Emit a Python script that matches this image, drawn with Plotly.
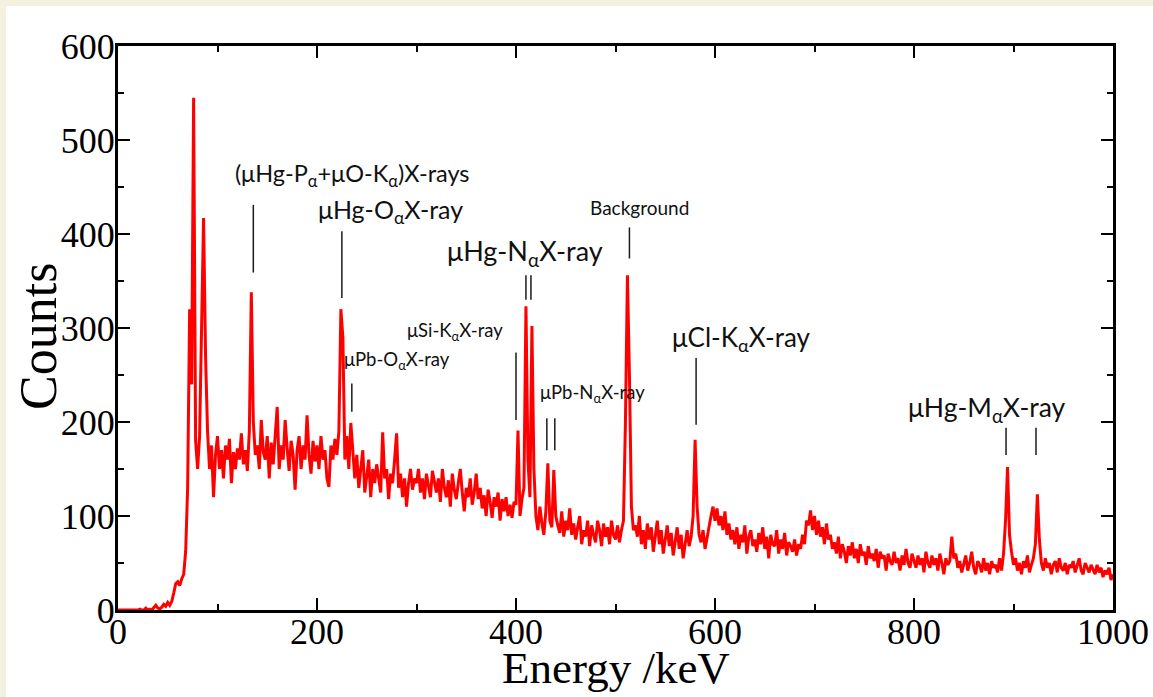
import plotly.graph_objects as go

# ---------------- data ----------------
energy_keV = list(range(0, 1001, 2))  # channel grid, 2 keV steps

counts = [
    0, 0, 0, 0, 0, 0, 0, 0, 0, 0,            # 0-18
    0, 1, 0, 0, 2, 0, 1, 0, 2, 5,            # 20-38
    2, 1, 3, 6, 4, 8, 5, 9, 18, 28,          # 40-58
    30, 26, 33, 38, 62, 130, 320, 240, 545, 180,   # 60-78
    150, 185, 300, 417, 270, 190, 150, 175, 120, 165,  # 80-98
    185, 150, 170, 140, 175, 160, 182, 135, 168, 150,  # 100-118
    172, 160, 188, 155, 170, 148, 190, 338, 200, 165,  # 120-138
    175, 150, 202, 168, 160, 185, 140, 178, 155, 190,  # 140-158
    216, 150, 175, 160, 202, 172, 148, 180, 165, 128,  # 160-178
    170, 185, 150, 175, 160, 207, 165, 145, 180, 158,  # 180-198
    175, 150, 185, 160, 170, 140, 131, 175, 160, 182,  # 200-218
    165, 190, 320, 290, 160, 185, 150, 199, 170, 140,  # 220-238
    165, 130, 150, 170, 125, 145, 160, 120, 150, 135,  # 240-258
    155, 140, 125, 189, 140, 150, 118, 145, 135, 160,  # 260-278
    188, 130, 145, 120, 140, 110, 135, 150, 128, 140,  # 280-298
    135, 150, 125, 140, 118, 145, 130, 120, 148, 135,  # 300-318
    125, 140, 115, 150, 130, 120, 138, 110, 145, 128,  # 320-338
    118, 135, 150, 125, 105, 130, 120, 140, 112, 125,  # 340-358
    145, 118, 130, 108, 122, 100, 128, 115, 98, 120,   # 360-378
    110, 125, 95, 118, 105, 120, 100, 112, 98, 115,    # 380-398
    112, 191, 100, 118, 130, 323, 160, 120, 302, 150,  # 400-418
    100, 85, 110, 92, 80, 105, 156, 95, 88, 149,       # 420-438
    100, 90, 82, 105, 78, 95, 85, 108, 80, 92,         # 440-458
    75, 88, 100, 70, 85, 78, 95, 68, 90, 80,           # 460-478
    72, 95, 85, 68, 92, 78, 88, 70, 95, 80,            # 480-498
    75, 90, 72, 85, 95, 200, 356, 250, 110, 85,        # 500-518
    90, 78, 100, 70, 85, 65, 92, 75, 88, 62,           # 520-538
    80, 95, 70, 85, 60, 78, 90, 68, 82, 58,            # 540-558
    75, 88, 65, 80, 55, 72, 85, 68, 78, 100,           # 560-578
    181, 110, 80, 72, 85, 65, 78, 90, 100, 110,        # 580-598
    95, 108, 90, 100, 85, 105, 80, 92, 75, 85,         # 600-618
    70, 88, 65, 80, 72, 90, 60, 78, 85, 68,            # 620-638
    75, 62, 82, 70, 88, 65, 78, 55, 80, 70,            # 640-658
    68, 85, 60, 75, 65, 82, 58, 72, 68, 62,            # 660-678
    75, 58, 70, 65, 80, 70, 95, 90, 106, 85,           # 680-698
    100, 80, 95, 78, 88, 70, 92, 75, 80, 65,           # 700-718
    72, 60, 78, 55, 70, 62, 50, 68, 58, 72,            # 720-738
    55, 65, 50, 70, 58, 62, 48, 68, 55, 60,            # 740-758
    52, 65, 45, 62, 55, 58, 42, 60, 52, 48,            # 760-778
    62, 50, 55, 42, 58, 48, 65, 50, 45, 60,            # 780-798
    52, 45, 58, 48, 55, 40, 62, 50, 45, 58,            # 800-818
    48, 55, 42, 60, 50, 38, 55, 48, 52, 78,            # 820-838
    55, 60, 45, 52, 40, 48, 58, 42, 50, 62,            # 840-858
    45, 38, 52, 48, 40, 55, 42, 50, 38, 52,            # 860-878
    45, 48, 40, 55, 42, 60, 95, 152, 80, 62,           # 880-898
    48, 55, 42, 50, 38, 52, 45, 58, 40, 48,            # 900-918
    55, 70, 123, 75, 50, 42, 55, 45, 50, 38,           # 920-938
    48, 52, 40, 55, 45, 42, 50, 38, 48, 45,            # 940-958
    52, 40, 48, 55, 42, 38, 50, 45, 40, 48,            # 960-978
    42, 38, 48, 40, 45, 35, 42, 38, 45, 32,            # 980-998
    38,                                                # 1000
]

x_tick_values = [0, 200, 400, 600, 800, 1000]
y_tick_values = [0, 100, 200, 300, 400, 500, 600]

# peak labels: (text, energy centre, counts centre, font size)
peak_labels = [
    ("(μHg-P<sub>α</sub>+μO-K<sub>α</sub>)X-rays", 236, 463, 23.5),
    ("μHg-O<sub>α</sub>X-ray", 274, 424, 25),
    ("μPb-O<sub>α</sub>X-ray", 280, 265, 18.5),
    ("μSi-K<sub>α</sub>X-ray", 339, 296, 18.5),
    ("μHg-N<sub>α</sub>X-ray", 409, 380, 27),
    ("μPb-N<sub>α</sub>X-ray", 477, 230, 18.5),
    ("Background", 524, 428, 19),
    ("μCl-K<sub>α</sub>X-ray", 626, 289, 26),
    ("μHg-M<sub>α</sub>X-ray", 873, 214, 26.5),
]

# marker lines: (energy, lower counts, upper counts)
marker_lines = [
    (136, 359, 431),
    (225, 332, 403),
    (235, 211, 241),
    (400, 202, 274),
    (410, 330, 356),
    (415, 330, 356),
    (431, 170, 204),
    (439, 170, 204),
    (514, 374, 407),
    (581, 197, 268),
    (892.5, 165, 194),
    (922.6, 165, 194),
]

# ---------------- figure ----------------
W, H = 1153, 697
ML, MR, MT, MB = 118, 40, 46, 87
pw, ph = W - ML - MR, H - MT - MB

fig = go.Figure()
fig.add_trace(go.Scatter(
    x=energy_keV, y=counts, mode="lines",
    line=dict(color="#ff0000", width=3),
    showlegend=False, hoverinfo="x+y",
))

shapes = []
# white panel over beige page
shapes.append(dict(
    type="rect", xref="paper", yref="paper", layer="below",
    x0=(6 - ML) / pw, x1=(W + 5 - ML) / pw,
    y0=(H - MB - (H + 5)) / ph, y1=(H - MB - 6) / ph,
    fillcolor="white", line=dict(width=0),
))
for e, y0, y1 in marker_lines:
    shapes.append(dict(type="line", xref="x", yref="y", x0=e, x1=e, y0=y0, y1=y1,
                       line=dict(color="#1a1a1a", width=1.5)))

annotations = []
for txt, ex, cy, fs in peak_labels:
    annotations.append(dict(
        x=ex, y=cy, xref="x", yref="y", text=txt, showarrow=False,
        xanchor="center", yanchor="middle",
        font=dict(family="Lato, 'Open Sans', sans-serif", size=fs, color="#111111"),
    ))

serif = "'Liberation Serif', 'Times New Roman', serif"
# axis titles placed as annotations
annotations.append(dict(
    x=(38 - ML) / pw, y=(H - MB - 337) / ph, xref="paper", yref="paper",
    text="Counts", textangle=-90, showarrow=False,
    xanchor="center", yanchor="middle",
    font=dict(family=serif, size=52, color="black"),
))
annotations.append(dict(
    x=(616 - ML) / pw, y=(H - MB - 668) / ph, xref="paper", yref="paper",
    text="Energy /keV", showarrow=False,
    xanchor="center", yanchor="middle",
    font=dict(family=serif, size=45, color="black"),
))

axis_common = dict(
    showline=True, linecolor="black", linewidth=3, mirror="allticks",
    ticks="inside", ticklen=12, tickwidth=2, tickcolor="black",
    showgrid=False, zeroline=False, automargin=False,
    tickfont=dict(family=serif, size=36, color="black"),
)

fig.update_layout(
    width=W, height=H,
    margin=dict(l=ML, r=MR, t=MT, b=MB),
    paper_bgcolor="#f4f1e1",
    plot_bgcolor="white",
    shapes=shapes,
    annotations=annotations,
    xaxis=dict(
        range=[0, 1000], tickvals=x_tick_values, ticklabelstandoff=-12,
        minor=dict(dtick=100, ticks="inside", ticklen=6, tickwidth=2, tickcolor="black"),
        **axis_common,
    ),
    yaxis=dict(
        range=[0, 600], tickvals=y_tick_values, ticklabelstandoff=-7,
        minor=dict(dtick=50, ticks="inside", ticklen=6, tickwidth=2, tickcolor="black"),
        **axis_common,
    ),
)

fig.write_html("out.html")
